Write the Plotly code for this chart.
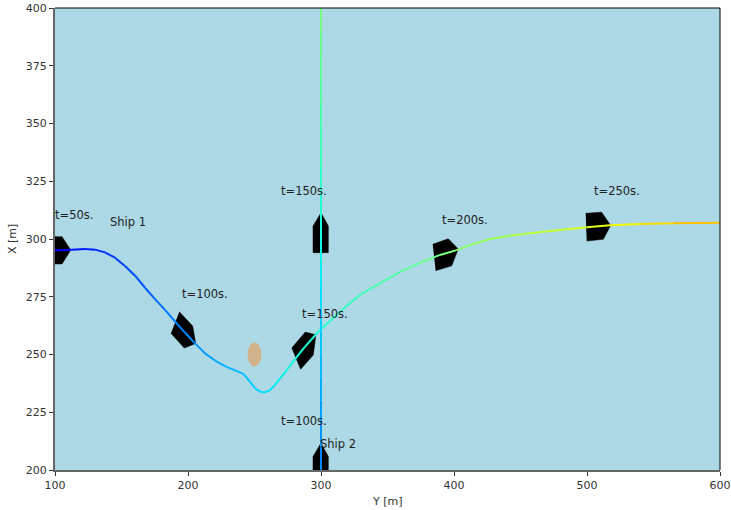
import numpy as np
import plotly.graph_objects as go

# Ship 1 track (Y, X in metres) and time along the track (s)
ship1_y = [100, 112.6, 122.6, 130.1, 137.6, 145.1, 152.6, 160.2, 167.7, 175.2, 182.7, 190.2, 197.7, 205.3, 212.8,
           220.3, 227.8, 235.3, 241.6, 246.6, 250.4, 254.1, 257.9, 261.7, 265.4, 272.9, 280.5, 288, 299.2, 306.8,
           314.3, 321.8, 329.3, 336.8, 344.4, 359.4, 374.4, 389.5, 402, 412, 427.1, 442.1, 457.1, 472.2, 487.2,
           499.8, 517.3, 539.8, 564.7, 600]
ship1_x = [295.1, 295.4, 295.7, 295.4, 294.2, 291.9, 288.3, 284.1, 278.9, 274, 269.3, 264.3, 259.5, 254.8, 250.5,
           247.4, 245, 243.1, 241.6, 238.2, 235.4, 233.9, 233.6, 234.6, 236.8, 242.3, 248, 253.4, 260.6, 264.5,
           268.5, 272.3, 275.8, 278.4, 280.8, 285.8, 289.7, 293.1, 295.2, 297.4, 300, 301.4, 302.5, 303.5, 304.3,
           305.1, 305.9, 306.5, 306.8, 307]
ship1_t = [50, 56, 61, 65, 69, 73, 77, 81, 86, 90, 95, 99, 103, 107, 112,
           116, 120, 124, 127, 130, 133, 135, 137, 139, 141, 146, 150, 153, 158, 161,
           164, 167, 170, 173, 176, 183, 190, 198, 204, 208, 215, 221, 228, 235, 241,
           246, 254, 264, 275, 290]

# Ship 2 track
ship2_y = [300, 300, 300, 300, 300, 300, 300, 300, 300, 300, 300, 300, 300, 300, 300, 300, 300, 300, 300, 300, 300]
ship2_x = [200, 210, 220, 230, 240, 250, 260, 270, 280, 290, 300, 310, 320, 330, 340, 350, 360, 370, 380, 390, 400]
ship2_t = [100, 105, 110, 115, 120, 125, 130, 135, 140, 145, 150, 155, 160, 165, 170, 175, 180, 185, 190, 195, 200]
t_scale_max = 400

# Ship outlines (Y, X)
hulls_y = [
    [94.7, 105.3, 111.8, 105.3, 94.7],
    [193.5, 203.5, 205.8, 197.2, 187.2],
    [288, 296.2, 294.2, 284.7, 278],
    [384, 395.7, 403.2, 398.3, 386.2],
    [499, 511, 517.8, 512.3, 499.8],
    [300, 305.5, 305.5, 294, 294, 300],
    [300, 305.5, 305.5, 294, 294, 300],
]
hulls_x = [
    [301, 301, 295.2, 289.2, 289.2],
    [268.5, 262.3, 254.8, 252.8, 259.2],
    [259.7, 258.6, 249.8, 243.6, 252.9],
    [297.7, 300.1, 295.7, 288.4, 286.3],
    [311.1, 311.6, 305.9, 299.9, 299.1],
    [311.4, 305.6, 294.1, 294.1, 305.6, 311.4],
    [211.7, 205.8, 194, 194, 205.8, 211.7],
]

# Text labels
label_text = ["t=50s.", "Ship 1", "t=100s.", "t=150s.", "t=200s.", "t=250s.", "t=150s.", "t=100s.", "Ship 2"]
label_y = [100, 141.4, 195.5, 285.7, 391, 505.3, 270, 270, 299]
label_x = [308.7, 305.6, 274.5, 265.8, 306.5, 319, 319, 219.5, 209.5]
x_title = "Y [m]"
y_title = "X [m]"

# Obstacle
obstacle_y, obstacle_x, obstacle_r = 250, 250, 5.2

FONT = "DejaVu Sans"


def jet(f):
    r = np.interp(f, [0, .35, .66, .89, 1], [0, 0, 1, 1, .5])
    g = np.interp(f, [0, .125, .375, .64, .91, 1], [0, 0, 1, 1, 0, 0])
    b = np.interp(f, [0, .11, .34, .65, 1], [.5, 1, 1, 0, 0])
    return f"rgb({int(r * 255)},{int(g * 255)},{int(b * 255)})"


fig = go.Figure()

for hy, hx in zip(hulls_y, hulls_x):
    fig.add_trace(go.Scatter(x=hy, y=hx, mode="lines", fill="toself", fillcolor="black",
                             line=dict(color="black", width=0.5), hoverinfo="skip", showlegend=False))


def add_track(ys, xs, ts):
    for i in range(len(ys) - 1):
        fig.add_trace(go.Scatter(x=ys[i:i + 2], y=xs[i:i + 2], mode="lines",
                                 line=dict(color=jet((ts[i] + ts[i + 1]) / 2 / t_scale_max), width=2),
                                 hoverinfo="skip", showlegend=False))


add_track(ship1_y, ship1_x, ship1_t)
add_track(ship2_y, ship2_x, ship2_t)

for s, ly, lx in zip(label_text, label_y, label_x):
    fig.add_annotation(x=ly, y=lx, text=s, showarrow=False, xanchor="left", yanchor="bottom",
                       borderpad=0, borderwidth=0, yshift=-3, font=dict(family=FONT, size=11.5, color="#222222"))

title_font = dict(family=FONT, size=11, color="#333333")
fig.add_annotation(xref="paper", yref="paper", x=0.5, y=0, yanchor="top", yshift=-23, showarrow=False,
                   text=x_title, font=title_font)
fig.add_annotation(xref="paper", yref="paper", x=0, y=0.5, xanchor="center", xshift=-43, textangle=-90,
                   showarrow=False, text=y_title, font=title_font)

fig.add_shape(type="circle", layer="below", x0=obstacle_y - obstacle_r, x1=obstacle_y + obstacle_r,
              y0=obstacle_x - obstacle_r, y1=obstacle_x + obstacle_r,
              fillcolor="#D2B48C", line=dict(width=0))
fig.add_shape(type="line", xref="paper", yref="paper", x0=0, x1=1, y0=1, y1=1, line=dict(color="black", width=1))
fig.add_shape(type="line", xref="paper", yref="paper", x0=1, x1=1, y0=0, y1=1, line=dict(color="black", width=1))

axis = dict(showgrid=False, zeroline=False, ticks="outside", ticklen=4, tickcolor="#333333", tickwidth=1,
            automargin=False,
            showline=True, linecolor="#666666", linewidth=2, tickfont=dict(family=FONT, size=11, color="#333333"))
fig.update_layout(
    width=731, height=510, autosize=False,
    margin=dict(l=55, r=11, t=8, b=40),
    paper_bgcolor="white", plot_bgcolor="#ADD8E6", showlegend=False,
    xaxis=dict(range=[100, 600], tickvals=[100, 200, 300, 400, 500, 600], **axis),
    yaxis=dict(range=[200, 400], tickvals=[200, 225, 250, 275, 300, 325, 350, 375, 400], **axis),
)
fig.write_html("out.html", config=dict(displayModeBar=False),
               post_script="document.body.style.margin='0';document.documentElement.style.overflow='hidden';")
